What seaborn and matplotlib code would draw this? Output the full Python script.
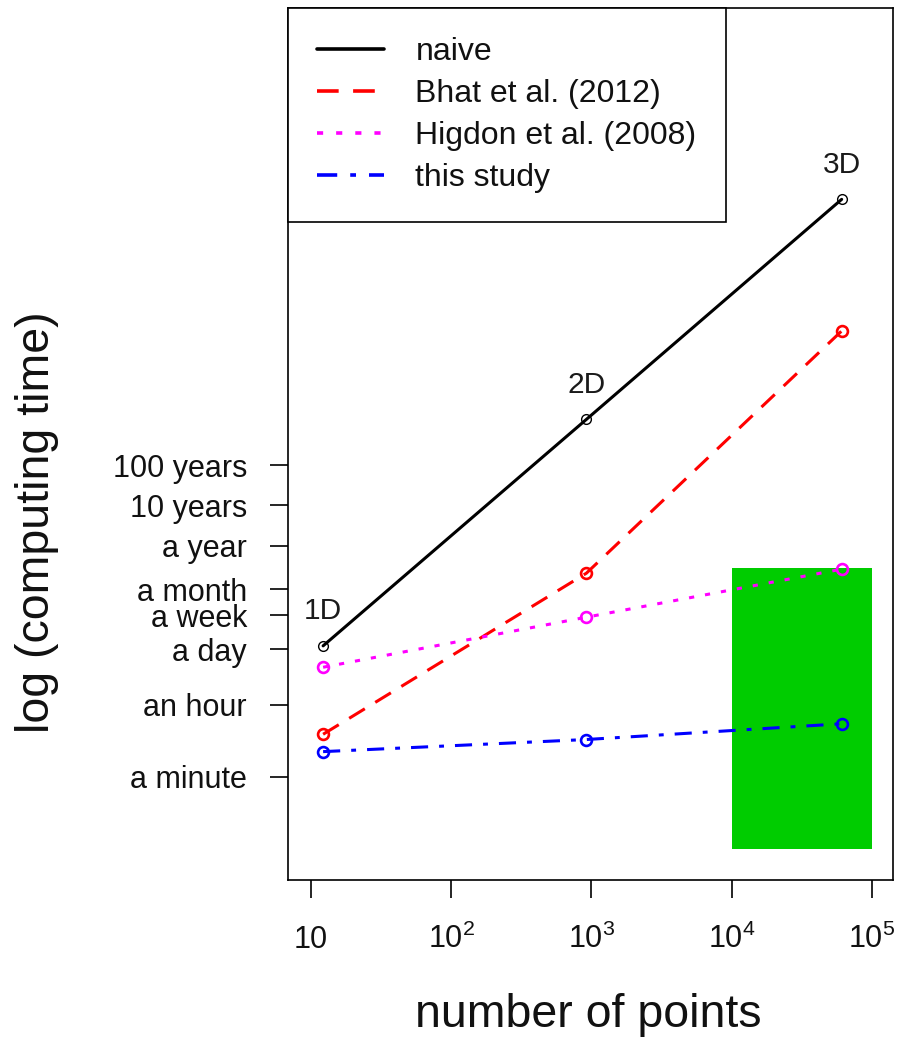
import numpy as np
import pandas as pd
import matplotlib
matplotlib.use("Agg")
import matplotlib.pyplot as plt
import seaborn as sns
from matplotlib.lines import Line2D
from matplotlib.ticker import NullLocator

# ---------------- data ----------------
npoints = [12.2, 920, 60800]
dims = ["1D", "2D", "3D"]
# log10(computing time in seconds)
naive = [5.02, 10.63, 16.08]
bhat = [2.83, 6.82, 12.82]
higdon = [4.49, 5.73, 6.92]
this_study = [2.40, 2.70, 3.09]
series_names = ["naive", "Bhat et al. (2012)", "Higdon et al. (2008)", "this study"]

tick_seconds = [60, 3600, 86400, 604800, 2.6298e6, 3.15576e7, 3.15576e8, 3.15576e9]
tick_labels = ["a minute", "an hour", "a day", "a week", "a month",
               "a year", "10 years", "100 years"]
x_ticks = [10, 1e2, 1e3, 1e4, 1e5]
x_tick_labels = ["10", r"$\mathregular{10^{2}}$", r"$\mathregular{10^{3}}$",
                 r"$\mathregular{10^{4}}$", r"$\mathregular{10^{5}}$"]
region_x = [1e4, 1e5]
region_y = [0.0, 6.94]

# ---------------- style ----------------
sns.set_theme(style="white")
plt.rcParams["font.family"] = ["Liberation Sans", "DejaVu Sans"]
plt.rcParams["mathtext.fontset"] = "custom"
plt.rcParams["mathtext.rm"] = "Liberation Sans"
plt.rcParams["mathtext.it"] = "Liberation Sans:italic"
plt.rcParams["mathtext.bf"] = "Liberation Sans:bold"

fig = plt.figure(figsize=(8.99, 10.4), dpi=100)
ax = fig.add_axes([288 / 899, 1 - 880 / 1040, (893 - 288) / 899, (880 - 8) / 1040])
ax.set_xscale("log")

# green region
ax.fill_between(region_x, region_y[0], region_y[1], color="#00CC00", lw=0, zorder=1)

lw = 2.2
styles = [
    ("black", "-", 7.0, 1.0),
    ("#FF0000", (0, (6, 4)), 7.8, 1.9),
    ("#FF00FF", (0, (1.7, 3.6)), 7.8, 1.9),
    ("#0000FF", (0, (5.6, 3.6, 1.6, 3.6)), 7.8, 1.9),
]
all_series = [naive, bhat, higdon, this_study]
for vals, (c, ls, ms, mew) in zip(all_series, styles):
    df = pd.DataFrame({"n": npoints, "t": vals})
    sns.lineplot(data=df, x="n", y="t", ax=ax, color=c, lw=lw, linestyle=ls,
                 marker="o", markersize=ms, markerfacecolor="none",
                 markeredgecolor=c, markeredgewidth=mew, zorder=3,
                 legend=False, errorbar=None)

for x, y, d in zip(npoints, naive, dims):
    ax.annotate(d, (x, y), xytext=(0, 25), textcoords="offset points",
                ha="center", va="center", fontsize=21.5, color="#1a1a1a")

ax.set_xlim(10 ** 0.836, 10 ** 5.150)
ax.set_ylim(-0.78, 20.82)

ax.set_yticks(np.log10(tick_seconds))
ax.set_yticklabels(tick_labels, fontsize=22, color="#111111")
ax.set_xticks(x_ticks)
ax.set_xticklabels(x_tick_labels, fontsize=22, color="#111111", va="baseline")
ax.xaxis.set_minor_locator(NullLocator())
ax.tick_params(axis="y", length=13, width=1.2, pad=16.5, direction="out",
               left=True, color="black")
ax.tick_params(axis="x", length=13, width=1.2, pad=36, direction="out",
               bottom=True, color="black")
ax.set_xlabel("")
ax.set_ylabel("")
for sp in ax.spines.values():
    sp.set_visible(True)
    sp.set_color("black")
    sp.set_linewidth(1.2)

handles = [Line2D([], [], color=c, lw=2.6, linestyle=ls) for (c, ls, _, _) in styles]
leg = ax.legend(handles, series_names, loc="upper left", bbox_to_anchor=(0, 1),
                borderaxespad=0, frameon=True, fancybox=False, edgecolor="black",
                framealpha=1, fontsize=23, handlelength=2.1, handletextpad=0.97,
                borderpad=0.92, labelspacing=0.37)
leg.get_frame().set_linewidth(1.2)
for t in leg.get_texts():
    t.set_color("#111111")

fig.text(37 / 899, 1 - 522 / 1040, "log (computing time)", rotation=90,
         ha="center", va="center", fontsize=33.5, color="#111111")
fig.text(588 / 899, 1 - 1015 / 1040, "number of points",
         ha="center", va="center", fontsize=33.5, color="#111111")

fig.savefig("out.png", dpi=100)
